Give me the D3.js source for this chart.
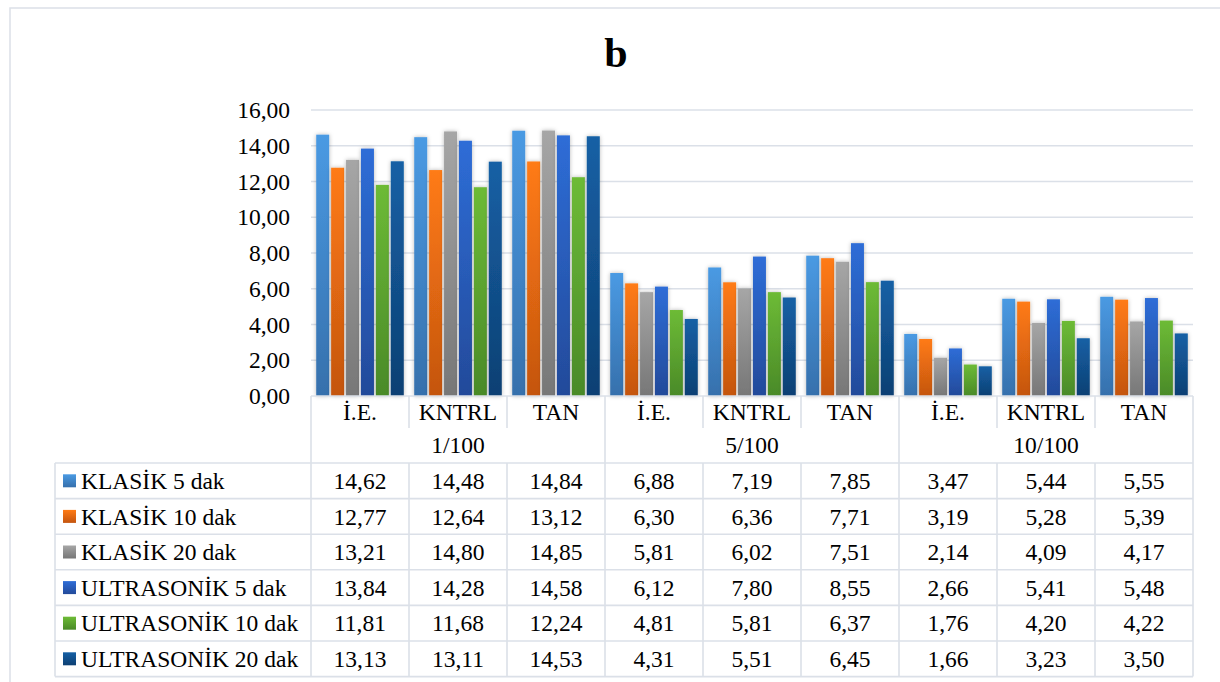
<!DOCTYPE html>
<html>
<head>
<meta charset="utf-8">
<script src="https://cdn.jsdelivr.net/npm/d3@7"></script>
<style>
html,body{margin:0;padding:0;background:#fff;}
svg{display:block;}
text{font-family:"Liberation Serif","Times New Roman",serif;fill:#000;}
</style>
</head>
<body>
<svg id="chart" width="1220" height="682"></svg>
<script>
const title = "b";
const groups = ["1/100", "5/100", "10/100"];
const subCategories = ["İ.E.", "KNTRL", "TAN"];
const seriesNames = ["KLASİK 5 dak", "KLASİK 10 dak", "KLASİK 20 dak", "ULTRASONİK 5 dak", "ULTRASONİK 10 dak", "ULTRASONİK 20 dak"];
const klasik5 = [14.62, 14.48, 14.84, 6.88, 7.19, 7.85, 3.47, 5.44, 5.55];
const klasik10 = [12.77, 12.64, 13.12, 6.30, 6.36, 7.71, 3.19, 5.28, 5.39];
const klasik20 = [13.21, 14.80, 14.85, 5.81, 6.02, 7.51, 2.14, 4.09, 4.17];
const ultra5 = [13.84, 14.28, 14.58, 6.12, 7.80, 8.55, 2.66, 5.41, 5.48];
const ultra10 = [11.81, 11.68, 12.24, 4.81, 5.81, 6.37, 1.76, 4.20, 4.22];
const ultra20 = [13.13, 13.11, 14.53, 4.31, 5.51, 6.45, 1.66, 3.23, 3.50];
const yTicks = [0, 2, 4, 6, 8, 10, 12, 14, 16];
const seriesValues = [klasik5, klasik10, klasik20, ultra5, ultra10, ultra20];
const colorsTop = ["#4a9ae3", "#ff7b15", "#a6a6a6", "#2e6dd7", "#6dbb36", "#1560a5"];
const colorsBottom = ["#3670ac", "#c4550f", "#777777", "#234a9a", "#4a8a28", "#0e4073"];

(function () {
const svg = d3.select("#chart");
const fmt = v => d3.format(".2f")(v).replace(".", ",");
const lineColor = "#dbe0e8";
const fs = 23.5;

const cats = [];
groups.forEach((g, gi) => subCategories.forEach((s, si) => cats.push({g, s, i: gi * subCategories.length + si})));

const pLeft = 311, pRight = 1193, pTop = 110, pBottom = 396;
const x = d3.scaleBand().domain(cats.map(c => c.i)).range([pLeft, pRight]).padding(0);
const xs = d3.scaleBand().domain(d3.range(seriesNames.length)).range([0, x.bandwidth()]).paddingInner(0.13).paddingOuter(0.35);
const y = d3.scaleLinear().domain([0, 16]).range([pBottom, pTop]);

const defs = svg.append("defs");
seriesNames.forEach((n, i) => {
  const lg = defs.append("linearGradient").attr("id", "g" + i).attr("x1", 0).attr("y1", 0).attr("x2", 0).attr("y2", 1);
  lg.append("stop").attr("offset", "0%").attr("stop-color", colorsTop[i]);
  lg.append("stop").attr("offset", "100%").attr("stop-color", colorsBottom[i]);
});
const f = defs.append("filter").attr("id", "shadow").attr("x", "-50%").attr("y", "-10%").attr("width", "200%").attr("height", "120%");
f.append("feDropShadow").attr("dx", 0).attr("dy", 0).attr("stdDeviation", 2.2).attr("flood-color", "#000").attr("flood-opacity", 0.28);

svg.append("rect").attr("x", 10).attr("y", 8).attr("width", 1240).attr("height", 720)
  .attr("fill", "none").attr("stroke", lineColor).attr("stroke-width", 1.5);

svg.append("text").attr("x", 616).attr("y", 67).attr("text-anchor", "middle")
  .attr("font-size", 42).attr("font-weight", "bold").text(title);

svg.append("g").selectAll("line").data(yTicks.filter(t => t > 0)).join("line")
  .attr("x1", pLeft).attr("x2", pRight).attr("y1", d => y(d)).attr("y2", d => y(d))
  .attr("stroke", lineColor).attr("stroke-width", 1.5);

svg.append("g").selectAll("text").data(yTicks).join("text")
  .attr("x", 290).attr("y", d => y(d) + 8).attr("text-anchor", "end")
  .attr("font-size", fs).text(d => fmt(d));

const barG = svg.append("g");
seriesValues.forEach((vals, si) => {
  barG.append("g").selectAll("rect").data(vals).join("rect")
    .attr("x", (d, i) => x(i) + xs(si))
    .attr("width", xs.bandwidth())
    .attr("y", d => y(d))
    .attr("height", d => y(0) - y(d))
    .attr("fill", "url(#g" + si + ")")
    .attr("filter", "url(#shadow)");
});

const t = svg.append("g");
const rowTop = 463, rowH = 35.6, catRowBottom = 428;
const tableLeft = 55;
const line = (x1, y1, x2, y2) => t.append("line").attr("x1", x1).attr("y1", y1).attr("x2", x2).attr("y2", y2)
  .attr("stroke", lineColor).attr("stroke-width", 1.6);
line(pLeft, pBottom, pRight, pBottom);
cats.forEach(c => {
  if (c.i % subCategories.length !== 0) line(x(c.i), pBottom, x(c.i), catRowBottom);
});
for (let gi = 0; gi <= groups.length; gi++) {
  const xx = gi < groups.length ? x(gi * subCategories.length) : pRight;
  line(xx, pBottom, xx, rowTop + rowH * seriesNames.length);
}
for (let r = 0; r <= seriesNames.length; r++) {
  line(tableLeft, rowTop + r * rowH, pRight, rowTop + r * rowH);
}
cats.forEach(c => {
  if (c.i % subCategories.length !== 0) line(x(c.i), rowTop, x(c.i), rowTop + rowH * seriesNames.length);
});
line(tableLeft, rowTop, tableLeft, rowTop + rowH * seriesNames.length);

t.selectAll("text.cat").data(cats).join("text").attr("class", "cat")
  .attr("x", d => x(d.i) + x.bandwidth() / 2).attr("y", 420).attr("text-anchor", "middle")
  .attr("font-size", fs).text(d => d.s);
t.selectAll("text.grp").data(groups).join("text").attr("class", "grp")
  .attr("x", (d, gi) => x(gi * subCategories.length) + x.bandwidth() * subCategories.length / 2)
  .attr("y", 453).attr("text-anchor", "middle").attr("font-size", fs).text(d => d);

seriesNames.forEach((n, si) => {
  const ry = rowTop + si * rowH;
  t.append("rect").attr("x", 63).attr("y", ry + rowH / 2 - 6.5).attr("width", 13).attr("height", 13)
    .attr("fill", "url(#g" + si + ")");
  t.append("text").attr("x", 81).attr("y", ry + 26).attr("font-size", fs).text(n);
  t.append("g").selectAll("text").data(seriesValues[si]).join("text")
    .attr("x", (d, i) => x(i) + x.bandwidth() / 2).attr("y", ry + 26).attr("text-anchor", "middle")
    .attr("font-size", fs).text(d => fmt(d));
});
})();
</script>
</body>
</html>
